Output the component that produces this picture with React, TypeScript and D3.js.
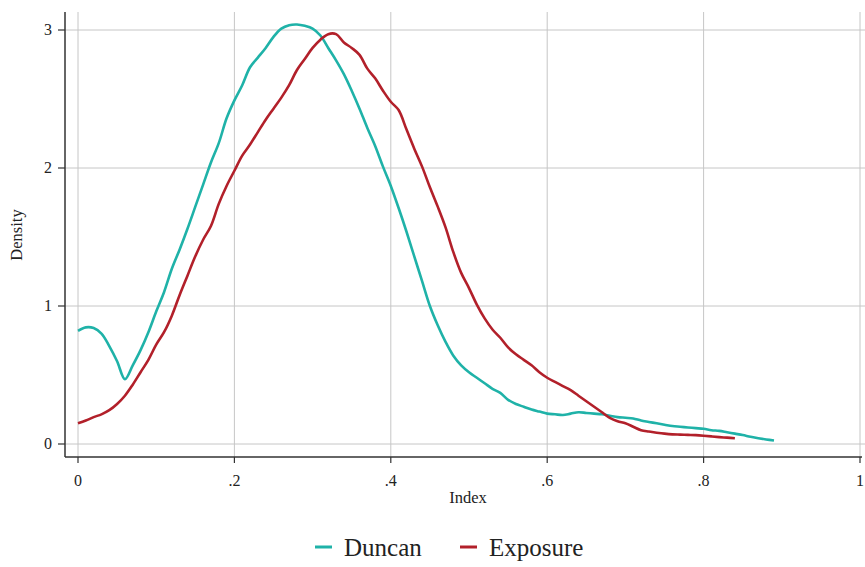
import React from "react";
import * as d3 from "d3";

const duncanX = [0,0.01,0.02,0.03,0.04,0.05,0.06,0.07,0.08,0.09,0.1,0.11,0.12,0.13,0.14,0.15,0.16,0.17,0.18,0.19,0.2,0.21,0.22,0.23,0.24,0.25,0.26,0.27,0.28,0.29,0.3,0.31,0.32,0.33,0.34,0.35,0.36,0.37,0.38,0.39,0.4,0.41,0.42,0.43,0.44,0.45,0.46,0.47,0.48,0.49,0.5,0.51,0.52,0.53,0.54,0.55,0.56,0.57,0.58,0.59,0.6,0.61,0.62,0.63,0.64,0.65,0.66,0.67,0.68,0.69,0.7,0.71,0.72,0.73,0.74,0.75,0.76,0.77,0.78,0.79,0.8,0.81,0.82,0.83,0.84,0.85,0.86,0.87,0.88,0.89];
const duncanY = [0.82,0.845,0.84,0.8,0.71,0.6,0.47,0.57,0.68,0.81,0.96,1.1,1.27,1.41,1.56,1.72,1.88,2.04,2.18,2.36,2.49,2.6,2.73,2.8,2.87,2.95,3.01,3.035,3.04,3.03,3.01,2.96,2.87,2.78,2.68,2.56,2.43,2.29,2.16,2.01,1.87,1.71,1.54,1.36,1.18,1.0,0.86,0.74,0.64,0.57,0.52,0.48,0.44,0.4,0.37,0.32,0.29,0.27,0.25,0.235,0.22,0.215,0.21,0.22,0.23,0.225,0.22,0.215,0.205,0.195,0.19,0.185,0.17,0.16,0.15,0.14,0.13,0.125,0.12,0.115,0.11,0.1,0.095,0.085,0.075,0.065,0.052,0.042,0.033,0.025];

const exposureX = [0,0.01,0.02,0.03,0.04,0.05,0.06,0.07,0.08,0.09,0.1,0.11,0.12,0.13,0.14,0.15,0.16,0.17,0.18,0.19,0.2,0.21,0.22,0.23,0.24,0.25,0.26,0.27,0.28,0.29,0.3,0.31,0.32,0.33,0.34,0.35,0.36,0.37,0.38,0.39,0.4,0.41,0.42,0.43,0.44,0.45,0.46,0.47,0.48,0.49,0.5,0.51,0.52,0.53,0.54,0.55,0.56,0.57,0.58,0.59,0.6,0.61,0.62,0.63,0.64,0.65,0.66,0.67,0.68,0.69,0.7,0.71,0.72,0.73,0.74,0.75,0.76,0.77,0.78,0.79,0.8,0.81,0.82,0.83,0.84];
const exposureY = [0.15,0.17,0.195,0.215,0.245,0.29,0.35,0.43,0.52,0.61,0.72,0.81,0.93,1.08,1.22,1.36,1.48,1.58,1.74,1.87,1.98,2.09,2.17,2.26,2.35,2.43,2.51,2.6,2.71,2.79,2.87,2.93,2.97,2.97,2.91,2.87,2.82,2.72,2.65,2.56,2.48,2.42,2.28,2.14,2.01,1.86,1.72,1.57,1.39,1.24,1.13,1.01,0.91,0.83,0.77,0.7,0.65,0.61,0.57,0.52,0.48,0.45,0.42,0.39,0.35,0.31,0.27,0.23,0.19,0.165,0.15,0.125,0.1,0.09,0.082,0.075,0.07,0.068,0.066,0.064,0.06,0.055,0.05,0.046,0.042];

const xTicks = [0, 0.2, 0.4, 0.6, 0.8, 1];
const xTickLabels = ["0", ".2", ".4", ".6", ".8", "1"];
const yTicks = [0, 1, 2, 3];
const yTickLabels = ["0", "1", "2", "3"];
const seriesNames = ["Duncan", "Exposure"];
const seriesColors = ["#1fb2a8", "#b2202a"];

const W = 865;
const H = 567;
const FONT = "'Liberation Serif', 'DejaVu Serif', serif";

export default function App() {
  const x = d3.scaleLinear().domain([0, 1]).range([78, 860]);
  const y = d3.scaleLinear().domain([0, 3]).range([444, 30]);
  const left = 65;
  const bottom = 457;
  const top = 12;
  const right = 865;

  const line = d3
    .line<[number, number]>()
    .x((d) => x(d[0]))
    .y((d) => y(d[1]))
    .curve(d3.curveCatmullRom.alpha(0.5));

  const series = [
    duncanX.map((v, i) => [v, duncanY[i]] as [number, number]),
    exposureX.map((v, i) => [v, exposureY[i]] as [number, number]),
  ];

  return (
    <svg
      width={W}
      height={H}
      style={{ position: "absolute", left: 0, top: 0, background: "#fff" }}
      fontFamily={FONT}
    >
      <rect x={0} y={0} width={W} height={H} fill="#fff" />
      {yTicks.map((t) => (
        <line key={"gy" + t} x1={left} x2={right} y1={y(t)} y2={y(t)} stroke="#c6c6c6" strokeWidth={1} />
      ))}
      {xTicks.map((t) => (
        <line key={"gx" + t} x1={x(t)} x2={x(t)} y1={top} y2={bottom} stroke="#c6c6c6" strokeWidth={1} />
      ))}
      {series.map((s, i) => (
        <path key={i} d={line(s) || ""} fill="none" stroke={seriesColors[i]} strokeWidth={2.6} strokeLinejoin="round" />
      ))}
      <line x1={left} x2={left} y1={top} y2={bottom} stroke="#333" strokeWidth={1.5} />
      <line x1={left} x2={right - 3} y1={bottom} y2={bottom} stroke="#333" strokeWidth={1.5} />
      {yTicks.map((t, i) => (
        <g key={"yt" + t}>
          <line x1={left - 7} x2={left} y1={y(t)} y2={y(t)} stroke="#333" strokeWidth={1.2} />
          <text x={52} y={y(t)} dy="0.33em" textAnchor="end" fontSize={16} fill="#222">
            {yTickLabels[i]}
          </text>
        </g>
      ))}
      {xTicks.map((t, i) => (
        <g key={"xt" + t}>
          <line x1={x(t)} x2={x(t)} y1={bottom} y2={bottom + 6} stroke="#333" strokeWidth={1.2} />
          <text x={x(t)} y={486} textAnchor="middle" fontSize={16} fill="#222">
            {xTickLabels[i]}
          </text>
        </g>
      ))}
      <text x={468} y={503} textAnchor="middle" fontSize={16.5} fill="#222">
        Index
      </text>
      <text transform={`translate(22,235) rotate(-90)`} textAnchor="middle" fontSize={16.5} fill="#222">
        Density
      </text>
      {seriesNames.map((n, i) => {
        const lx = [315, 460][i];
        return (
          <g key={n}>
            <line x1={lx} x2={lx + 17} y1={547} y2={547} stroke={seriesColors[i]} strokeWidth={3} />
            <text x={lx + 29} y={556} fontSize={25} fill="#222">
              {n}
            </text>
          </g>
        );
      })}
    </svg>
  );
}
